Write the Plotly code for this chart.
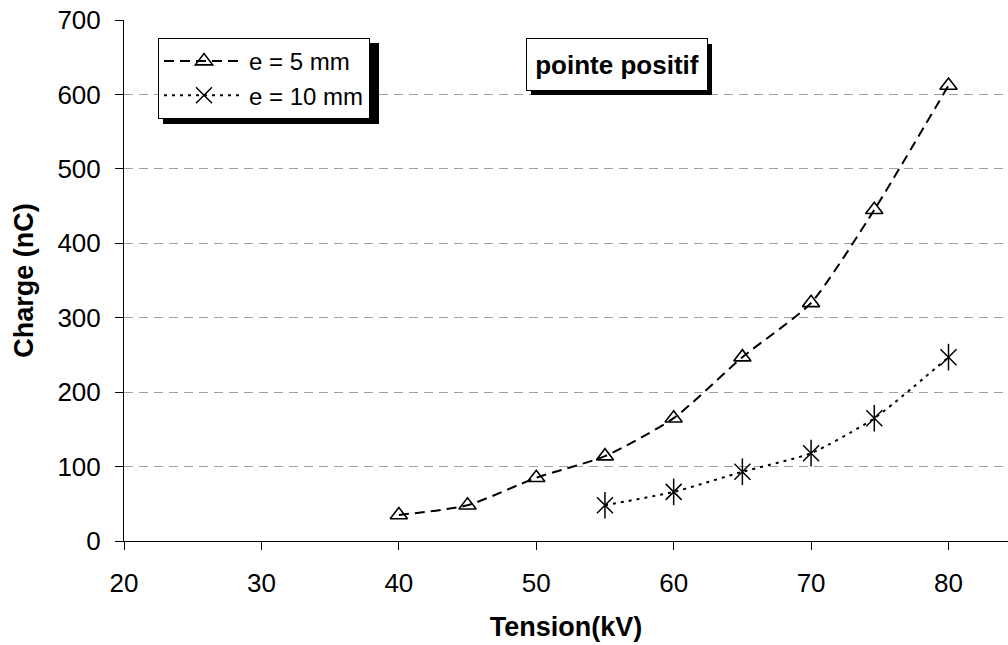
import plotly.graph_objects as go

# data
tension_5mm = [40, 45, 50, 55, 60, 65, 70, 74.6, 80]
charge_5mm = [35, 48, 85, 114, 165, 247, 320, 445, 612]
tension_10mm = [55, 60, 65, 70, 74.6, 80]
charge_10mm = [48, 66, 93, 118, 165, 247]

W, H = 1008, 645
L, T, B, R = 124, 20, 104, 0
pw, ph = W - L - R, H - T - B


def px(x, y):
    # pixel -> paper coords
    return (x - L) / pw, (H - B - y) / ph


font = dict(family="Liberation Sans, Arial", color="black")

fig = go.Figure()
fig.add_trace(go.Scatter(x=tension_5mm, y=charge_5mm, mode='lines+markers', name='e = 5 mm',
                         line=dict(color='black', width=2, dash='10px,6px', shape='spline', smoothing=0.6),
                         marker=dict(symbol='triangle-up-open', size=15, color='black', line=dict(width=1.6))))
fig.add_trace(go.Scatter(x=tension_10mm, y=charge_10mm, mode='lines+markers', name='e = 10 mm',
                         line=dict(color='black', width=2, dash='3px,5px', shape='spline', smoothing=0.6),
                         marker=dict(symbol='x-thin-open', size=16, color='black', line=dict(width=1.5))))
fig.add_trace(go.Scatter(x=tension_10mm, y=charge_10mm, mode='markers', showlegend=False,
                         marker=dict(symbol='line-ns-open', size=19, color='black', line=dict(width=1.5))))

# shadows for the legend and the label box
x0, y0 = px(163, 43)
x1, y1 = px(379, 124)
fig.add_shape(type='rect', xref='paper', yref='paper', x0=x0, y0=y1, x1=x1, y1=y0,
              fillcolor='black', line=dict(width=0), layer='above')
x0, y0 = px(531, 44)
x1, y1 = px(712, 95)
fig.add_shape(type='rect', xref='paper', yref='paper', x0=x0, y0=y1, x1=x1, y1=y0,
              fillcolor='black', line=dict(width=0), layer='above')

ax, ay = px(617, 65)
fig.add_annotation(text='<b>pointe positif</b>', xref='paper', yref='paper', x=ax, y=ay,
                   xanchor='center', yanchor='middle', showarrow=False, width=176, height=47,
                   bgcolor='white', bordercolor='black', borderwidth=1, borderpad=2,
                   font=dict(size=26, **font))

lx, ly = px(158, 38)
fig.update_layout(
    width=W, height=H, margin=dict(l=L, t=T, b=B, r=R),
    paper_bgcolor='white', plot_bgcolor='white',
    font=dict(size=26, **font),
    legend=dict(x=lx, y=ly, xanchor='left', yanchor='top', bgcolor='white',
                bordercolor='black', borderwidth=1, font=dict(size=24, **font),
                itemwidth=80, tracegroupgap=0),
    xaxis=dict(range=[20, 84.33], tickvals=[20, 30, 40, 50, 60, 70, 80], showgrid=False,
               showline=True, linecolor='black', linewidth=1, ticks='outside', ticklen=8,
               tickcolor='black', zeroline=False, ticklabelstandoff=11,
               tickfont=dict(size=26, **font),
               title=dict(text='<b>Tension(kV)</b>', font=dict(size=27, **font), standoff=19)),
    yaxis=dict(range=[0, 700], dtick=100, showgrid=True, gridcolor='#a0a0a0', griddash='9px,6px',
               gridwidth=1, showline=True, linecolor='black', linewidth=1, ticks='outside',
               ticklen=8, tickcolor='black', zeroline=False, ticklabelstandoff=9,
               tickfont=dict(size=26, **font),
               title=dict(text='<b>Charge (nC)</b>', font=dict(size=27, **font), standoff=15)),
)

fig.write_html("out.html", config={'displayModeBar': False},
               post_script="document.body.style.margin = '0';")
